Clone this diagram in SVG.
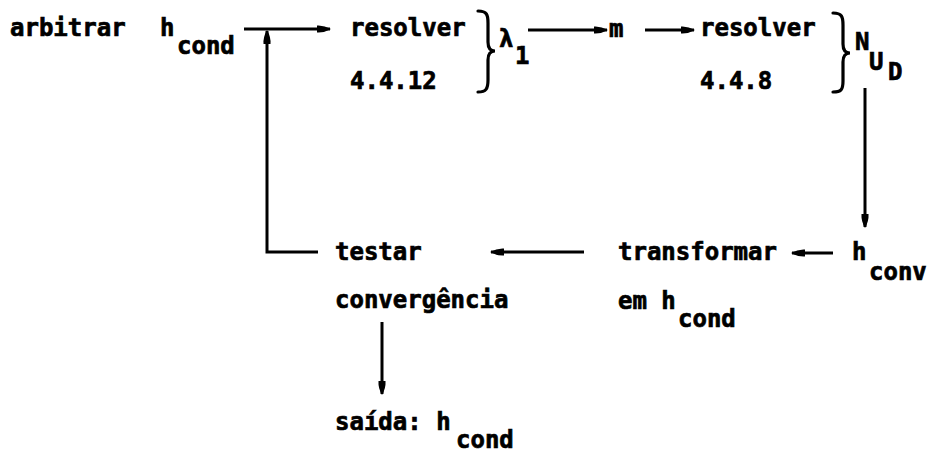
<svg xmlns="http://www.w3.org/2000/svg" width="945" height="454" viewBox="0 0 945 454">
<defs>
<style>
text{font-family:"DejaVu Sans Mono","Liberation Mono",monospace;font-weight:bold;font-size:24px;fill:#000;stroke:#000;stroke-width:0.7}
.ln{stroke:#000;stroke-width:3;fill:none}
.br{stroke:#000;stroke-width:3.2;fill:none;stroke-linecap:round}
</style>
<marker id="ah" viewBox="0 0 14 10" refX="13" refY="5" markerWidth="14" markerHeight="10" markerUnits="userSpaceOnUse" orient="auto">
<path d="M0,1.5 Q7,1 14,5 Q7,9 0,8.5 Z" fill="#000"/>
</marker>
</defs>
<rect width="945" height="454" fill="#fff"/>
<g id="connectors">
<line class="ln" x1="244" y1="29" x2="330" y2="29" marker-end="url(#ah)"/>
<polyline class="ln" points="318,252 267,252 267,31" marker-end="url(#ah)"/>
<line class="ln" x1="528" y1="30" x2="607" y2="30" marker-end="url(#ah)"/>
<line class="ln" x1="645" y1="30" x2="694" y2="30" marker-end="url(#ah)"/>
<line class="ln" x1="865" y1="88" x2="865" y2="227" marker-end="url(#ah)"/>
<line class="ln" x1="833" y1="253" x2="792" y2="253" marker-end="url(#ah)"/>
<line class="ln" x1="584" y1="252" x2="491" y2="252" marker-end="url(#ah)"/>
<line class="ln" x1="382" y1="322" x2="382" y2="394" marker-end="url(#ah)"/>
</g>
<g id="arbitrar">
<text x="10" y="36">arbitrar</text>
<text x="160" y="36">h</text><text x="177" y="54">cond</text>
</g>
<g id="resolver1">
<text x="350" y="36">resolver</text>
<text x="350" y="89">4.4.12</text>
<path class="br" d="M478,11 C487,11 488,15 488,23 L488,42 C488,48 490,51 495,51 C490,51 488,54 488,60 L488,80 C488,89 486,92 478,92"/>
<text x="499" y="47">λ</text><text x="515" y="64">1</text>
</g>
<g id="m">
<text x="609" y="37">m</text>
</g>
<g id="resolver2">
<text x="700" y="36">resolver</text>
<text x="700" y="89">4.4.8</text>
<path class="br" d="M833,13 C842,13 843,17 843,25 L843,44 C843,50 845,53 850,53 C845,53 843,56 843,62 L843,81 C843,90 841,92 833,92"/>
<text x="855" y="50">N</text><text x="869" y="70">U</text><text x="888" y="80">D</text>
</g>
<g id="hconv">
<text x="852" y="260">h</text><text x="869" y="280">conv</text>
</g>
<g id="transformar">
<text x="618" y="260">transformar</text>
<text x="618" y="309">em h</text><text x="678" y="327">cond</text>
</g>
<g id="testar">
<text x="335" y="260">testar</text>
<text x="335" y="308">convergência</text>
</g>
<g id="saida">
<text x="335" y="430">saída: h</text><text x="456" y="448">cond</text>
</g>
</svg>
